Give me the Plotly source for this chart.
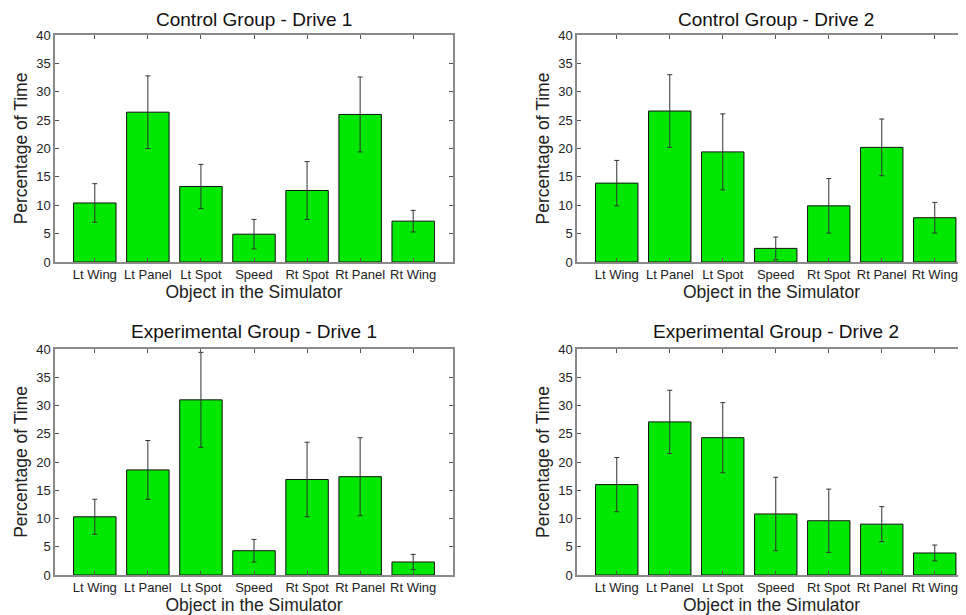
import plotly.graph_objects as go

categories = ["Lt Wing", "Lt Panel", "Lt Spot", "Speed", "Rt Spot", "Rt Panel", "Rt Wing"]

control_d1 = [10.4, 26.4, 13.3, 4.9, 12.6, 26.0, 7.2]
control_d1_err = [3.4, 6.4, 3.9, 2.6, 5.1, 6.6, 1.9]

control_d2 = [13.9, 26.6, 19.4, 2.4, 9.9, 20.2, 7.8]
control_d2_err = [4.0, 6.4, 6.7, 2.0, 4.8, 5.0, 2.7]

exp_d1 = [10.3, 18.6, 31.0, 4.3, 16.9, 17.4, 2.3]
exp_d1_err = [3.1, 5.2, 8.4, 2.0, 6.6, 6.9, 1.35]

exp_d2 = [16.0, 27.1, 24.3, 10.8, 9.6, 9.0, 3.9]
exp_d2_err = [4.8, 5.6, 6.2, 6.5, 5.6, 3.1, 1.4]

titles = ["Control Group - Drive 1", "Control Group - Drive 2",
          "Experimental Group - Drive 1", "Experimental Group - Drive 2"]
y_ticks = [0, 5, 10, 15, 20, 25, 30, 35, 40]

# page has an 8px body margin; figure covers window pixels 8..966 x 8..615
OFF = 8
W, H = 966 - OFF, 615 - OFF
FONT = "Liberation Sans, Arial, sans-serif"
panels = [
    (control_d1, control_d1_err, (55, 453), (35, 262), True, 8),
    (control_d2, control_d2_err, (577, 966), (35, 262), False, 8),
    (exp_d1, exp_d1_err, (55, 453), (349, 575), True, 320),
    (exp_d2, exp_d2_err, (577, 966), (349, 575), False, 320),
]

fig = go.Figure()
annotations = []
layout = {}
for i, (vals, errs, (x0, x1), (ytop, ybot), full, ttop) in enumerate(panels):
    n = "" if i == 0 else str(i + 1)
    fig.add_trace(go.Bar(
        x=categories, y=vals,
        marker=dict(color="#00e800", line=dict(color="#111111", width=1)),
        width=0.8,
        error_y=dict(type="data", array=errs, visible=True, color="#333333",
                     thickness=1, width=2.5),
        xaxis="x" + n, yaxis="y" + n, showlegend=False,
    ))
    spacing = 53.0
    xr_end = -0.75 + (x1 - x0) / spacing if not full else 6.75
    fx0, fx1 = x0 - OFF, x1 - OFF
    fyt, fyb = ytop - OFF, ybot - OFF
    layout["xaxis" + n] = dict(
        domain=[fx0 / W, fx1 / W], anchor="y" + n, automargin=False,
        type="category", range=[-0.75, xr_end],
        showline=True, linecolor="#8a8a8a", linewidth=1.5, mirror="ticks",
        ticks="inside", ticklen=4, tickcolor="#555555",
        showgrid=False, zeroline=False,
        tickfont=dict(family=FONT, size=13, color="#222222"),
        title=dict(text="Object in the Simulator", standoff=0,
                   font=dict(family=FONT, size=17.5, color="#222222")),
    )
    layout["yaxis" + n] = dict(
        domain=[(H - fyb) / H, (H - fyt) / H], anchor="x" + n, automargin=False,
        range=[0, 40], tickvals=y_ticks,
        showline=True, linecolor="#8a8a8a", linewidth=1.5,
        mirror="ticks" if full else False,
        ticks="inside", ticklen=4, tickcolor="#555555",
        showgrid=False, zeroline=False,
        tickfont=dict(family=FONT, size=13, color="#222222"),
        title=dict(text="Percentage of Time", standoff=4,
                   font=dict(family=FONT, size=17.5, color="#222222")),
    )
    cx = ((fx0 + 398) + fx0) / 2 / W
    annotations.append(dict(
        text=titles[i], x=cx, xref="paper", y=(H - (ttop - OFF)) / H, yref="paper",
        xanchor="center", yanchor="top", showarrow=False, borderpad=0,
        font=dict(family=FONT, size=19, color="#111111"),
    ))

fig.update_layout(
    width=W, height=H,
    margin=dict(l=0, r=0, t=0, b=0),
    paper_bgcolor="white", plot_bgcolor="white",
    annotations=annotations,
    bargap=0.2,
    **layout,
)
fig.write_html("out.html")
